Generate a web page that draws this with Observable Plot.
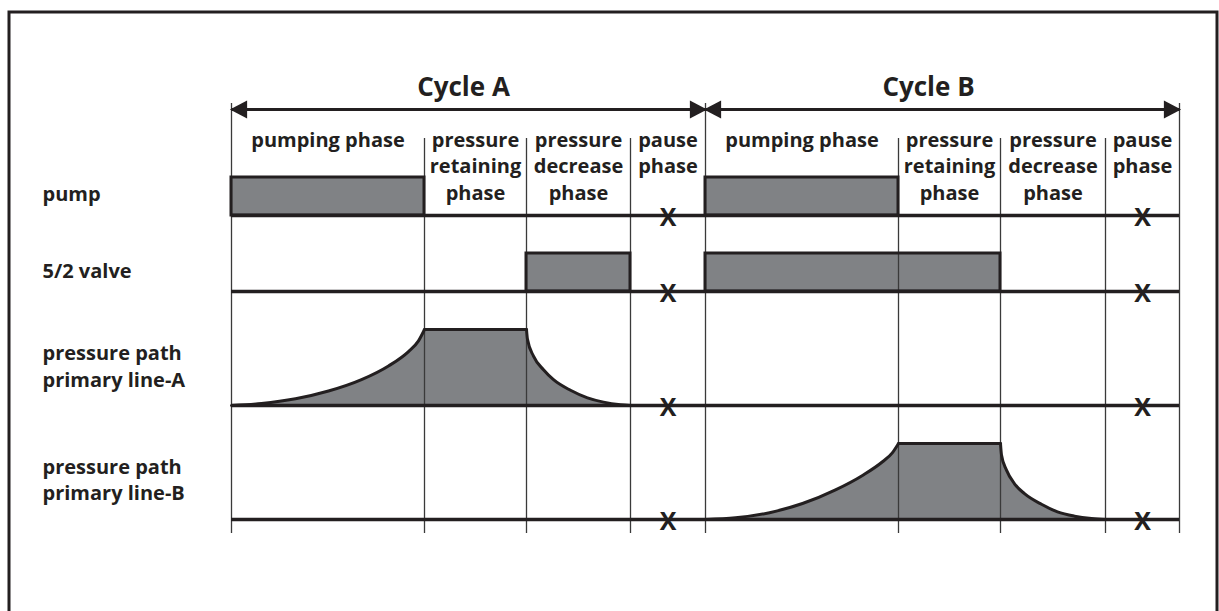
<!DOCTYPE html>
<html>
<head>
<meta charset="utf-8">
<script src="https://cdn.jsdelivr.net/npm/d3@7"></script>
<script src="https://cdn.jsdelivr.net/npm/@observablehq/plot@0.6"></script>
<style>
  html, body { margin: 0; padding: 0; background: #fff; overflow: hidden; }
</style>
</head>
<body>
<div id="chart"></div>
<script>
// ---------------- data (time in arbitrary units, levels 0..1) ----------------
const cycleNames = ["Cycle A", "Cycle B"];
const cycleStart = [0, 474];
const cycleEnd = [474, 948];
const cycleLabelT = [232, 697];
const phaseNames = ["pumping phase", "pressure\nretaining\nphase", "pressure\ndecrease\nphase", "pause\nphase"];
const phaseBounds = [0, 193, 295, 399, 474, 667, 769, 874, 948];
const signalNames = ["pump", "5/2 valve", "pressure path\nprimary line-A", "pressure path\nprimary line-B"];
const pumpOnStart = [0, 474];
const pumpOnEnd = [193, 667];
const valveOnStart = [295, 474];
const valveOnEnd = [399, 769];
const riseA_t = [0, 30, 64, 97, 130, 157, 177, 187, 193];
const riseA_v = [0, 0.026, 0.088, 0.19, 0.34, 0.52, 0.71, 0.85, 1];
const holdA_t = [193, 295];
const fallA_t = [295, 296, 302, 312, 322, 339, 356, 372, 389, 399];
const fallA_v = [1, 0.87, 0.65, 0.47, 0.34, 0.20, 0.10, 0.044, 0.01, 0];
const riseB_t = [474, 504, 538, 571, 604, 631, 651, 661, 667];
const riseB_v = [0, 0.022, 0.09, 0.21, 0.39, 0.58, 0.76, 0.88, 1];
const holdB_t = [667, 769];
const fallB_t = [769, 770, 775, 783, 793, 810, 826, 843, 860, 874];
const fallB_v = [1, 0.85, 0.65, 0.47, 0.34, 0.20, 0.10, 0.044, 0.013, 0];
const pauseMarkT = [436.5, 911];

// ---------------- layout & style ----------------
const DARK = "#231f20", GREY = "#808285", DIV = "#3a3a3a";
const laneBase = [4, 3, 1.5, 0];      // pump, valve, line-A, line-B
const barH = 0.5, pressH = 1;
const arrowY = 5.395, cycleLabelY = 5.566;
const cycleLineTop = 5.474, phaseLineTop = 5.013, lineBottom = -0.184;
const phaseLineY = [4.895, 4.553, 4.21];
const signalLineY = [[4.197], [3.184], [2.105, 1.75], [0.605, 0.263]];
const FONT = "'Open Sans', 'Noto Sans', sans-serif";
const CROSS_FONT = "'Liberation Sans Narrow', 'Open Sans', sans-serif";

// ---------------- tables ----------------
const bars = [
  ...pumpOnStart.map((s, i) => ({x1: s, x2: pumpOnEnd[i], lane: 0})),
  ...valveOnStart.map((s, i) => ({x1: s, x2: valveOnEnd[i], lane: 1}))
].map(d => ({...d, y1: laneBase[d.lane], y2: laneBase[d.lane] + barH}));

function pressureSegs(lane, name, rt, rv, ht, ft, fv) {
  const b = laneBase[lane];
  return [
    ...rt.map((t, i) => ({seg: name + "-rise", t, y: b + rv[i] * pressH, base: b})),
    ...ht.map(t => ({seg: name + "-hold", t, y: b + pressH, base: b})),
    ...ft.map((t, i) => ({seg: name + "-fall", t, y: b + fv[i] * pressH, base: b}))
  ];
}
const pressure = [
  ...pressureSegs(2, "A", riseA_t, riseA_v, holdA_t, fallA_t, fallA_v),
  ...pressureSegs(3, "B", riseB_t, riseB_v, holdB_t, fallB_t, fallB_v)
];

const dividers = phaseBounds.map((t, i) => ({t, top: i % 4 === 0 ? cycleLineTop : phaseLineTop}));

const phaseRows = [];
for (let c = 0; c < cycleNames.length; c++) {
  for (let p = 0; p < phaseNames.length; p++) {
    const i = c * phaseNames.length + p;
    const mid = (phaseBounds[i] + phaseBounds[i + 1]) / 2;
    phaseNames[p].split("\n").forEach((txt, l) => phaseRows.push({t: mid, y: phaseLineY[l], txt}));
  }
}

const signalRows = [];
signalNames.forEach((name, k) => {
  name.split("\n").forEach((txt, l) => signalRows.push({y: signalLineY[k][l], txt}));
});

const crossRows = [];
laneBase.forEach(b => pauseMarkT.forEach(t => crossRows.push({t, y: b})));

const cycles = cycleNames.map((name, i) => ({name, x1: cycleStart[i], x2: cycleEnd[i], lt: cycleLabelT[i]}));

// ---------------- plot ----------------
const chart = Plot.plot({
  width: 1219,
  height: 611,
  marginLeft: 8.5,
  marginTop: 11.5,
  marginRight: 2.5,
  marginBottom: -4,
  x: {domain: [0, 948], range: [231, 1179], axis: null},
  y: {domain: [0, 1], range: [519, 443], axis: null},
  style: {fontFamily: FONT, background: "#fff", color: DARK},
  marks: [
    Plot.frame({stroke: DARK, strokeWidth: 3}),
    Plot.rect(bars, {x1: "x1", x2: "x2", y1: "y1", y2: "y2", fill: GREY}),
    Plot.area(pressure, {x1: "t", y1: "base", y2: "y", z: "seg", fill: GREY, curve: "monotone-x"}),
    Plot.ruleX(dividers, {x: "t", y1: () => lineBottom, y2: "top", stroke: DIV, strokeWidth: 1.3}),
    Plot.rect(bars, {x1: "x1", x2: "x2", y1: "y1", y2: "y2", fill: "none", stroke: DARK, strokeWidth: 3}),
    Plot.ruleY(laneBase, {y: d => d, x1: () => cycleStart[0], x2: () => cycleEnd[1], stroke: DARK, strokeWidth: 3.5}),
    Plot.line(pressure, {x: "t", y: "y", z: "seg", stroke: DARK, strokeWidth: 3, curve: "monotone-x",
      strokeLinecap: "round", strokeLinejoin: "round"}),
    Plot.link(cycles, {x1: "x1", x2: "x2", y1: () => arrowY, y2: () => arrowY, stroke: DARK, strokeWidth: 3,
      markerStart: "arrow", markerEnd: "arrow"}),
    Plot.text(cycles, {x: "lt", y: () => cycleLabelY, text: "name", fontSize: 26, fontWeight: "bold",
      textAnchor: "middle", lineAnchor: "bottom", fill: DARK}),
    Plot.text(phaseRows, {x: "t", y: "y", text: "txt", fontSize: 20, fontWeight: "bold",
      textAnchor: "middle", lineAnchor: "bottom", fill: DARK}),
    Plot.text(signalRows, {y: "y", text: "txt", frameAnchor: "left", dx: 33.5, fontSize: 20, fontWeight: "bold",
      textAnchor: "start", lineAnchor: "bottom", fill: DARK}),
    Plot.text(crossRows, {x: "t", y: "y", text: () => "X", fontSize: 25, fontWeight: "bold", dy: 2,
      fontFamily: CROSS_FONT, textAnchor: "middle", lineAnchor: "middle", fill: DARK})
  ]
});

// filled arrowheads
d3.select(chart).selectAll("marker").each(function () {
  const m = d3.select(this);
  m.attr("viewBox", "-9 -5 10 10")
   .attr("markerUnits", "userSpaceOnUse")
   .attr("markerWidth", 20)
   .attr("markerHeight", 20)
   .attr("orient", "auto-start-reverse")
   .attr("overflow", "visible")
   .attr("fill", DARK)
   .attr("stroke", "none");
  m.selectAll("path").attr("d", "M-7.8,-4.5L0.8,0L-7.8,4.5Z");
});

document.getElementById("chart").appendChild(chart);
</script>
</body>
</html>
